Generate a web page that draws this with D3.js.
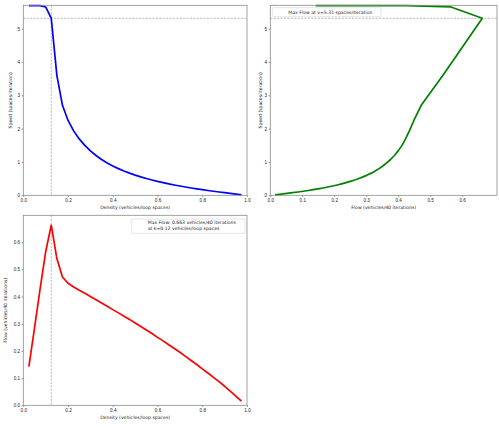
<!DOCTYPE html>
<html>
<head>
<meta charset="utf-8">
<script src="https://cdn.jsdelivr.net/npm/d3@7"></script>
<style>
  body { margin: 0; background: #fff; }
  svg { display: block; font-family: "DejaVu Sans", sans-serif; }
  .axis text { font-size: 4.6px; fill: #222; }
  .axis line { stroke: #444; stroke-width: 0.6; }
  .axis path { display: none; }
  .lbl { font-size: 4.6px; fill: #222; }
</style>
</head>
<body>
<div id="chart"></div>
<script>
// density (vehicles/loop spaces)
var density = [0.025, 0.05, 0.075, 0.1, 0.125, 0.15, 0.175, 0.2, 0.225, 0.25,
  0.275, 0.3, 0.325, 0.35, 0.375, 0.4, 0.425, 0.45, 0.475, 0.5,
  0.525, 0.55, 0.575, 0.6, 0.625, 0.65, 0.675, 0.7, 0.725, 0.75,
  0.775, 0.8, 0.825, 0.85, 0.875, 0.9, 0.925, 0.95, 0.975];
// speed (spaces/iteration)
var speed = [5.69, 5.69, 5.69, 5.65, 5.31, 3.60, 2.70, 2.245, 1.933, 1.692,
  1.498, 1.333, 1.194, 1.074, 0.971, 0.880, 0.800, 0.729, 0.665, 0.606,
  0.552, 0.504, 0.459, 0.417, 0.379, 0.343, 0.310, 0.279, 0.248, 0.220,
  0.194, 0.168, 0.144, 0.121, 0.099, 0.078, 0.056, 0.036, 0.015];
// flow (vehicles/40 iterations)
var flow = [0.142, 0.284, 0.427, 0.565, 0.663, 0.540, 0.472, 0.449, 0.435, 0.423,
  0.412, 0.400, 0.388, 0.376, 0.364, 0.352, 0.340, 0.328, 0.316, 0.303,
  0.290, 0.277, 0.264, 0.250, 0.237, 0.223, 0.209, 0.195, 0.180, 0.165,
  0.150, 0.134, 0.119, 0.103, 0.087, 0.070, 0.052, 0.034, 0.015];

var maxK = 0.125, maxV = 5.31, maxQ = 0.663;
var speedTicks = [0, 1, 2, 3, 4, 5];
var densityTicks = [0, 0.2, 0.4, 0.6, 0.8, 1.0];
var flowTicks = [0, 0.1, 0.2, 0.3, 0.4, 0.5, 0.6];

var svg = d3.select("#chart").append("svg")
  .attr("width", 499).attr("height", 427);

function panel(o) {
  var g = svg.append("g").attr("transform", "translate(" + o.L + "," + o.T + ")");
  var x = d3.scaleLinear().domain(o.xd).range([0, o.W]);
  var y = d3.scaleLinear().domain(o.yd).range([o.H, 0]);

  g.append("g").attr("class", "axis")
    .attr("transform", "translate(0," + o.H + ")")
    .call(d3.axisBottom(x).tickValues(o.xt).tickFormat(d3.format(".1f"))
      .tickSize(1.6).tickPadding(1.6));
  g.append("g").attr("class", "axis")
    .call(d3.axisLeft(y).tickValues(o.yt).tickFormat(d3.format(o.yf))
      .tickSize(1.6).tickPadding(1.6));

  if (o.hline) {
    g.append("line").attr("x1", 0).attr("x2", o.W)
      .attr("y1", y(o.hline)).attr("y2", y(o.hline))
      .attr("stroke", "#a8a8a8").attr("stroke-width", 0.8)
      .attr("stroke-dasharray", "2.2,1.2");
  }
  if (o.vline) {
    g.append("line").attr("y1", 0).attr("y2", o.H)
      .attr("x1", x(o.vline)).attr("x2", x(o.vline))
      .attr("stroke", "#a8a8a8").attr("stroke-width", 0.8)
      .attr("stroke-dasharray", "2.2,1.2");
  }

  var line = d3.line().x(function(d) { return x(d[0]); }).y(function(d) { return y(d[1]); });
  g.append("path").datum(d3.zip(o.xs, o.ys))
    .attr("d", line).attr("fill", "none")
    .attr("stroke", o.color).attr("stroke-width", 1.7)
    .attr("stroke-linejoin", "round");

  g.append("rect").attr("width", o.W).attr("height", o.H)
    .attr("fill", "none").attr("stroke", "#8a8a8a").attr("stroke-width", 0.8);

  g.append("text").attr("class", "lbl").attr("text-anchor", "middle")
    .attr("x", o.W / 2).attr("y", o.H + 14).text(o.xl);
  g.append("text").attr("class", "lbl").attr("text-anchor", "middle")
    .attr("transform", "translate(" + o.yx + "," + (o.H / 2) + ") rotate(-90)")
    .text(o.yl);

  if (o.legend) {
    var lg = o.legend;
    g.append("rect").attr("x", lg.x).attr("y", lg.y).attr("width", lg.w).attr("height", lg.h)
      .attr("rx", 1).attr("fill", "#fff").attr("fill-opacity", 0.8)
      .attr("stroke", "#d5d5d5").attr("stroke-width", 0.6);
    lg.lines.forEach(function(t, i) {
      g.append("text").attr("class", "lbl")
        .attr("x", lg.tx).attr("y", lg.ty + i * 6).text(t);
    });
  }
}

panel({L: 23.3, T: 5.3, W: 223.7, H: 190, xd: [0, 1], yd: [0, 5.7],
  xt: densityTicks, yt: speedTicks, yf: "d", xs: density, ys: speed,
  color: "#0000ff", hline: maxV, vline: maxK, yx: -11.6,
  xl: "Density (vehicles/loop spaces)", yl: "Speed (spaces/iteration)"});

panel({L: 270.3, T: 5.3, W: 226.7, H: 190, xd: [0, 0.709], yd: [0, 5.7],
  xt: flowTicks, yt: speedTicks, yf: "d", xs: flow, ys: speed,
  color: "#008000", hline: maxV, yx: -8.6,
  xl: "Flow (vehicles/40 iterations)", yl: "Speed (spaces/iteration)",
  legend: {x: 2, y: 2.4, w: 108.7, h: 9, tx: 18, ty: 8.3,
    lines: ["Max Flow at v=" + maxV.toFixed(2) + " spaces/iteration"]}});

panel({L: 23.3, T: 215.3, W: 223.7, H: 190, xd: [0, 1], yd: [0, 0.699],
  xt: densityTicks, yt: flowTicks, yf: ".1f", xs: density, ys: flow,
  color: "#ff0000", vline: maxK, yx: -16,
  xl: "Density (vehicles/loop spaces)", yl: "Flow (vehicles/40 iterations)",
  legend: {x: 108.4, y: 3.7, w: 113.3, h: 14.3, tx: 124.4, ty: 9.1,
    lines: ["Max Flow: " + maxQ.toFixed(3) + " vehicles/40 iterations",
            "at k=0.12 vehicles/loop spaces"]}});
</script>
</body>
</html>
